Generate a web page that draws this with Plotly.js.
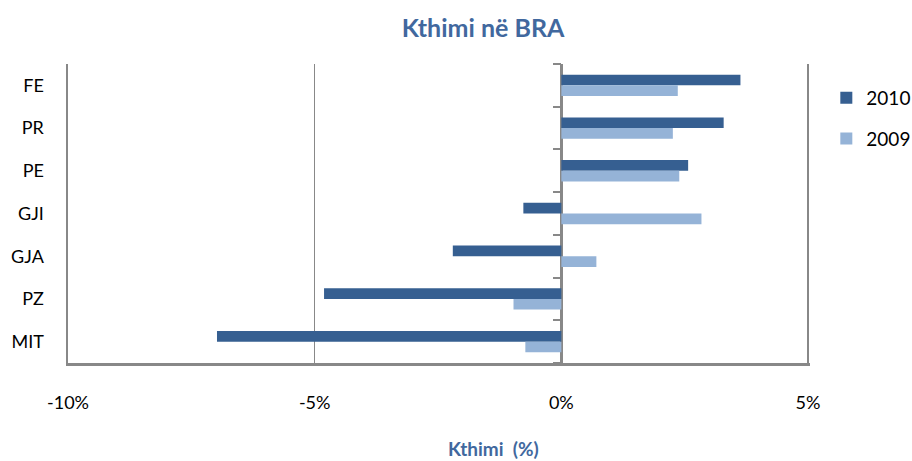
<!DOCTYPE html>
<html>
<head>
<meta charset="utf-8">
<script src="https://cdn.plot.ly/plotly-3.0.1.min.js"></script>
<style>html,body{margin:0;padding:0;background:#fff;}#chart{width:912px;height:461px;}</style>
</head>
<body>
<div id="chart"></div>
<script>
var categories = ["FE", "PR", "PE", "GJI", "GJA", "PZ", "MIT"];
var values2010 = [3.63, 3.29, 2.57, -0.77, -2.20, -4.81, -6.98];
var values2009 = [2.36, 2.26, 2.39, 2.84, 0.71, -0.97, -0.73];
var xTickVals = [-10, -5, 0, 5];
var xTickText = ["-10%", "-5%", "0%", "5%"];
var boundaryTicks = [-0.5, 0.5, 1.5, 2.5, 3.5, 4.5, 5.5, 6.5];

var FONT = "Lato, 'Open Sans', sans-serif";
var GRAY = "#888888";

var traces = [
  {type: "bar", orientation: "h", name: "2010", y: categories, x: values2010,
   marker: {color: "#365F91"}, legendgroup: "a", hoverinfo: "x+y"},
  {type: "bar", orientation: "h", name: "2009", y: categories, x: values2009,
   marker: {color: "#95B3D7"}, legendgroup: "b", hoverinfo: "x+y"},
  {type: "scatter", x: [], y: [], yaxis: "y2", showlegend: false, hoverinfo: "skip"}
];

var layout = {
  width: 912, height: 461,
  margin: {l: 68, r: 102, t: 64, b: 98, autoexpand: false},
  paper_bgcolor: "#ffffff", plot_bgcolor: "#ffffff",
  font: {family: FONT, size: 18, color: "#000"},
  title: {text: "<b>Kthimi në BRA</b>", font: {family: FONT, size: 25, color: "#41689E"},
          x: 483/912, xref: "container", xanchor: "center", y: 1 - 28/461, yref: "container", yanchor: "middle"},
  barmode: "group", bargap: 0.5, bargroupgap: 0,
  showlegend: true,
  legend: {x: 1.022, xanchor: "left", y: 0.95, yanchor: "top", traceorder: "grouped",
           tracegroupgap: 13, font: {family: FONT, size: 19, color: "#000"}, bgcolor: "rgba(0,0,0,0)"},
  xaxis: {range: [-10, 5.04], tickmode: "array", tickvals: xTickVals, ticktext: xTickText,
          showgrid: true, gridcolor: GRAY, gridwidth: 1.5,
          zeroline: true, zerolinecolor: GRAY, zerolinewidth: 2.5,
          showline: true, linecolor: GRAY, linewidth: 2.5,
          ticks: "outside", ticklen: 22, tickcolor: "rgba(0,0,0,0)",
          tickfont: {family: FONT, size: 18, color: "#000"}, fixedrange: true},
  yaxis: {type: "category", categoryorder: "array", categoryarray: categories,
          range: [6.5, -0.5], showgrid: false, zeroline: false,
          showline: true, linecolor: GRAY, linewidth: 2.5,
          ticks: "outside", ticklen: 18, tickcolor: "rgba(0,0,0,0)",
          tickfont: {family: FONT, size: 18, color: "#000"}, fixedrange: true},
  yaxis2: {overlaying: "y", anchor: "free", position: 10/15.04, side: "left",
           range: [6.5, -0.5], tickmode: "array", tickvals: boundaryTicks,
           showticklabels: false, ticks: "outside", ticklen: 8, tickwidth: 2, tickcolor: GRAY,
           showgrid: false, zeroline: false, showline: false, fixedrange: true},
  annotations: [
    {text: "<b>Kthimi  (%)</b>", xref: "paper", yref: "paper",
     x: (493-68)/742, y: -(448-363)/299, xanchor: "center", yanchor: "middle", showarrow: false,
     font: {family: FONT, size: 19, color: "#41689E"}}
  ]
};

Plotly.newPlot("chart", traces, layout, {displayModeBar: false, staticPlot: true});
</script>
</body>
</html>
